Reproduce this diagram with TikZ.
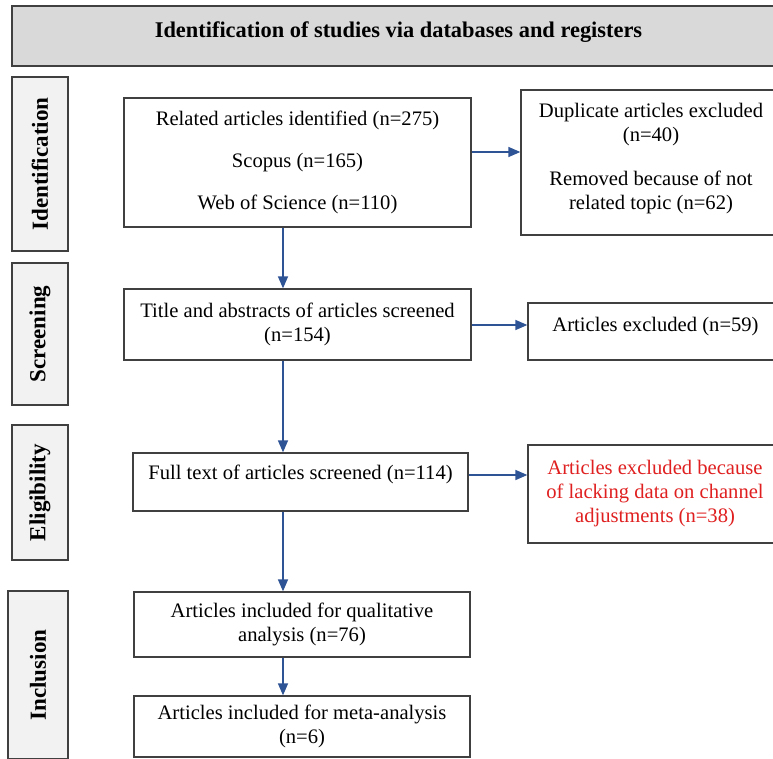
\documentclass[tikz,border=0pt]{standalone}
\usepackage{fontspec}
\setmainfont{Liberation Serif}
\usetikzlibrary{arrows.meta}
\definecolor{edgecol}{RGB}{64,64,64}
\definecolor{hdrfill}{RGB}{217,217,217}
\definecolor{labfill}{RGB}{242,242,242}
\definecolor{arrcol}{RGB}{47,84,150}
\definecolor{redtxt}{RGB}{224,32,32}
\begin{document}
\begin{tikzpicture}[x=1pt,y=-1pt,
  box/.style={draw=edgecol, line width=1.3pt, fill=white, inner sep=0pt, align=center,
              font=\fontsize{20.6}{24}\selectfont},
  phase/.style={draw=edgecol, line width=1.3pt, fill=labfill, inner sep=0pt, rotate=90,
              font=\fontsize{23}{27}\selectfont\bfseries},
  flow/.style={draw=arrcol, line width=1.5pt, -{Triangle[length=12pt,width=10pt]}}]
\useasboundingbox (0,0) rectangle (773,758);
\fill[white] (0,0) rectangle (773,758);
\clip (0,0) rectangle (773,758);

% header
\node[draw=edgecol, line width=1.3pt, fill=hdrfill, inner sep=0pt,
      minimum width=773pt, minimum height=60pt, text height=15pt, text depth=13pt,
      font=\fontsize{22.4}{26}\selectfont\bfseries] (hdr) at (398.5,36)
      {Identification of studies via databases and registers};

% phase labels
\node[phase, minimum width=174pt, minimum height=56pt] (pid) at (40,164) {Identification};
\node[phase, minimum width=142pt, minimum height=56pt] (psc) at (40,334) {Screening};
\node[phase, minimum width=135pt, minimum height=56pt] (pel) at (40,492.5) {Eligibility};
\node[phase, minimum width=168pt, minimum height=60pt] (pin) at (38,675) {Inclusion};

% main column
\node[box, minimum width=347pt, minimum height=129pt] (b1) at (297.5,162.5)
  {Related articles identified (n=275)\\[18pt]Scopus (n=165)\\[18pt]Web of Science (n=110)};
\node[box, minimum width=347pt, minimum height=71pt] (b2) at (297.5,324.5)
  {Title and abstracts of articles screened\\(n=154)};
\node[box, minimum width=335pt, minimum height=58pt, text height=14.5pt, text depth=20.5pt] (b3) at (300.5,482)
  {Full text of articles screened (n=114)};
\node[box, minimum width=336pt, minimum height=65pt] (b4) at (302,624.5)
  {Articles included for qualitative\\analysis (n=76)};
\node[box, minimum width=336pt, minimum height=61pt] (b5) at (302,726.5)
  {Articles included for meta-analysis\\(n=6)};

% right column
\node[box, minimum width=260pt, minimum height=145pt] (r1) at (651,162.5)
  {Duplicate articles excluded\\(n=40)\\[20pt]Removed because of not\\related topic (n=62)\rule[-13pt]{0pt}{0pt}};
\node[box, minimum width=255pt, minimum height=57pt, text height=14.5pt, text depth=15.5pt] (r2) at (655.5,331.5)
  {Articles excluded (n=59)};
\node[box, minimum width=254pt, minimum height=98pt, text=redtxt] (r3) at (655,494)
  {Articles excluded because\\of lacking data on channel\\adjustments (n=38)};

% connectors
\coordinate (ax) at (283,0);
\coordinate (ay1) at (0,152);
\coordinate (ay2) at (0,325);
\coordinate (ay3) at (0,475);
\draw[flow] (b1.south -| ax) -- (b2.north -| ax);
\draw[flow] (b2.south -| ax) -- (b3.north -| ax);
\draw[flow] (b3.south -| ax) -- (b4.north -| ax);
\draw[flow] (b4.south -| ax) -- (b5.north -| ax);
\draw[flow] (b1.east |- ay1) -- (r1.west |- ay1);
\draw[flow] (b2.east |- ay2) -- (r2.west |- ay2);
\draw[flow] (b3.east |- ay3) -- (r3.west |- ay3);
\end{tikzpicture}
\end{document}
